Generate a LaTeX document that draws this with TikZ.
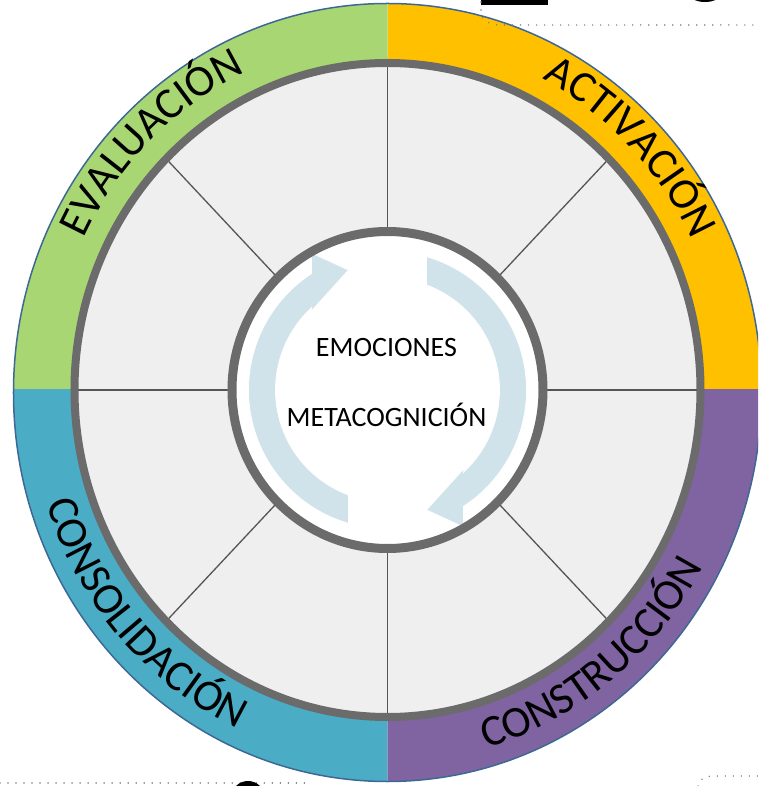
\documentclass[tikz,border=0pt]{standalone}
\usepackage{fontspec}
\setmainfont{Carlito}
\usetikzlibrary{decorations.text}
\definecolor{cgreen}{HTML}{A8D672}
\definecolor{corange}{HTML}{FFC000}
\definecolor{cpurple}{HTML}{8064A2}
\definecolor{cteal}{HTML}{4BACC6}
\definecolor{cborder}{HTML}{3E6894}
\definecolor{cband}{HTML}{EFEFEF}
\definecolor{cring}{HTML}{6B6B6B}
\definecolor{cspoke}{HTML}{555555}
\definecolor{carrow}{HTML}{D0E2EA}
\definecolor{cdots}{HTML}{808080}
\newcommand\ringlabelfont{\fontsize{44}{48}\selectfont}
\tikzset{
  spoke/.style={draw=cspoke, line width=1.3pt},
  ringline/.style={draw=cring, line width=8pt},
  cyclearrow/.style={fill=carrow, draw=white, line width=0.8pt},
  centerlabel/.style={font=\fontsize{28}{30}\selectfont, anchor=base, inner sep=0pt},
  dotline/.style={draw=cdots, line width=1.6pt, dash pattern=on 0.01pt off 8pt, line cap=round},
  toplabel/.style={decorate, decoration={text along path, text align=center, text={|\ringlabelfont|#1}}},
}
\begin{document}
\begin{tikzpicture}[x=1pt,y=1pt]
\useasboundingbox (-387.5,-396) rectangle (370.5,390);
\begin{scope}
\clip (-387.5,-396) rectangle (370.5,390);
\coordinate (c) at (0,0);
\coordinate (oc) at (0,-2.5);
% coloured quadrants
\begin{scope}
\clip (0,0) rectangle (400,400);
\fill[corange] (oc) ellipse[x radius=374pt, y radius=389pt];
\end{scope}
\begin{scope}
\clip (0,0) rectangle (-400,400);
\fill[cgreen] (oc) ellipse[x radius=374pt, y radius=389pt];
\end{scope}
\begin{scope}
\clip (0,0) rectangle (-400,-400);
\fill[cteal] (oc) ellipse[x radius=374pt, y radius=389pt];
\end{scope}
\begin{scope}
\clip (0,0) rectangle (400,-400);
\fill[cpurple] (oc) ellipse[x radius=374pt, y radius=389pt];
\end{scope}
\draw[cborder, line width=1.5pt] (oc) ellipse[x radius=374pt, y radius=389pt];
% inner band
\fill[cband] (c) ellipse[x radius=313pt, y radius=327pt];
\foreach \a in {0,45,...,315}{
  \draw[spoke] (\a:150 and 153) -- (\a:313 and 327);
}
\draw[ringline] (c) ellipse[x radius=313pt, y radius=327pt];
% hub
\fill[white] (c) ellipse[x radius=155.5pt, y radius=158.5pt];
\path[cyclearrow] (-39,-133.4) arc[start angle=253.7, end angle=123.2, radius=139pt]
  -- (-76,137) -- (-39,120) -- (-77,78) -- (132.7:112)
  arc[start angle=132.7, end angle=249.6, radius=112pt] -- cycle;
\begin{scope}[rotate=180]
\path[cyclearrow] (-39,-133.4) arc[start angle=253.7, end angle=123.2, radius=139pt]
  -- (-76,137) -- (-39,120) -- (-77,78) -- (132.7:112)
  arc[start angle=132.7, end angle=249.6, radius=112pt] -- cycle;
\end{scope}
\draw[draw=cring, line width=9pt] (c) ellipse[x radius=155.5pt, y radius=158.5pt];
\node[centerlabel] (emo) at (-1,33) {EMOCIONES};
\node[centerlabel] (meta) at (-1,-37) {METACOGNICIÓN};
% curved labels
\path[toplabel=EVALUACIÓN] (164.5:337 and 350) arc[start angle=164.5, end angle=104.5, x radius=337pt, y radius=350pt];
\path[toplabel=ACTIVACIÓN] (74.2:337 and 350) arc[start angle=74.2, end angle=14.2, x radius=337pt, y radius=350pt];
\path[toplabel=CONSOLIDACIÓN] (186.7:358 and 373) arc[start angle=186.7, end angle=256.7, x radius=358pt, y radius=373pt];
\path[toplabel=CONSTRUCCIÓN] (273.7:358 and 373) arc[start angle=273.7, end angle=343.7, x radius=358pt, y radius=373pt];
% page artefacts
\fill[black] (93.5,390) rectangle (160.5,384.5);
\fill[black] (317.5,394) ellipse[x radius=14pt, y radius=6pt];
\coordinate (d1) at (93.5,388);
\coordinate (d2) at (370.5,365);
\draw[dotline] (d1) -- (93.5,378) to[out=-90, in=180] (113,365) -- (d2);
\coordinate (d3) at (-387.5,-392.7);
\coordinate (d4) at (-82,-392.7);
\draw[dotline] (d3) -- (d4);
\fill[black] (-139.5,-406) ellipse[x radius=16pt, y radius=15pt];
\coordinate (d5) at (310.5,-396);
\coordinate (d6) at (370.5,-386);
\draw[dotline] (d5) to[out=80, in=180] (324,-386) -- (d6);
\end{scope}
\end{tikzpicture}
\end{document}
